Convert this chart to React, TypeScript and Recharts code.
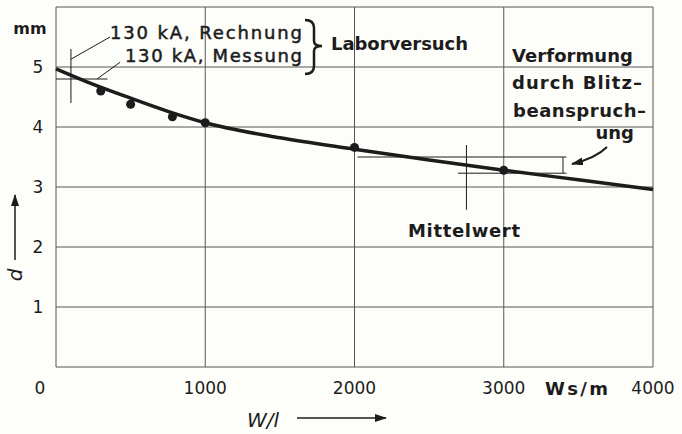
import React from "react";
import {
  CartesianGrid,
  ComposedChart,
  Line,
  ReferenceLine,
  Scatter,
  XAxis,
  YAxis,
} from "recharts";

// deformation d (mm) over specific energy W/l (Ws/m)
const curveW = [0, 250, 500, 750, 1000, 1500, 2000, 2500, 3000, 3500, 4000];
const curveD = [4.97, 4.71, 4.48, 4.26, 4.07, 3.82, 3.63, 3.45, 3.28, 3.12, 2.96];
const dotW = [300, 500, 780, 1000, 2000, 3000];
const dotD = [4.6, 4.38, 4.17, 4.07, 3.66, 3.28];
const xTicks = [0, 1000, 2000, 3000, 4000];
const yTicks = [0, 1, 2, 3, 4, 5, 6];
const yLabels = ["", "1", "2", "3", "4", "5", ""];

const curve = curveW.map((w, i) => ({ w, d: curveD[i] }));
const dots = dotW.map((w, i) => ({ w, d: dotD[i] }));

const ink = "#1c1c1c";
const font = "'DejaVu Sans', sans-serif";

function XTick(props: any) {
  const { x, y, payload } = props;
  const shift = payload.value === 0 ? -16 : 0;
  return (
    <text x={x + shift} y={y + 13} textAnchor="middle" dominantBaseline="central"
      fontFamily={font} fontSize={17} fill={ink}>
      {payload.value}
    </text>
  );
}

function YTick(props: any) {
  const { x, y, payload } = props;
  const label = yLabels[yTicks.indexOf(payload.value)];
  if (!label) return null;
  return (
    <text x={x - 10} y={y} textAnchor="middle" dominantBaseline="central"
      fontFamily={font} fontSize={17} fill={ink}>
      {label}
    </text>
  );
}

function Overlay() {
  const t = { fontFamily: font, fill: ink, dominantBaseline: "central" as const, lengthAdjust: "spacing" as const };
  const med = { stroke: ink, strokeWidth: 0.5 };
  return (
    <svg width={682} height={434} style={{ position: "absolute", left: 0, top: 0, pointerEvents: "none" }}>
      <defs>
        <marker id="ah" markerWidth="12" markerHeight="8" refX="11" refY="4" orient="auto" markerUnits="userSpaceOnUse">
          <path d="M0,0 L12,4 L0,8 Z" fill={ink} />
        </marker>
      </defs>
      <text x={30} y={28} fontSize={16} fontWeight="bold" textAnchor="middle" {...t}>mm</text>
      <text x={110} y={32} fontSize={18} textLength={192} {...t} {...med}>130 kA, Rechnung</text>
      <text x={125} y={55} fontSize={18} textLength={177} {...t} {...med}>130 kA, Messung</text>
      <path d="M305,20 Q314,20 314,28 L314,41 Q314,46 322,46 Q314,46 314,51 L314,66 Q314,74 305,74"
        fill="none" stroke={ink} strokeWidth={2.5} />
      <text x={331} y={43} fontSize={18} fontWeight="bold" textLength={137} {...t}>Laborversuch</text>
      <text x={512} y={55} fontSize={18} fontWeight="bold" textLength={121} {...t}>Verformung</text>
      <text x={512} y={82} fontSize={18} fontWeight="bold" textLength={130} {...t}>durch Blitz–</text>
      <text x={513} y={110} fontSize={18} fontWeight="bold" textLength={133} {...t}>beanspruch–</text>
      <text x={634} y={132} fontSize={18} fontWeight="bold" textAnchor="end" {...t}>ung</text>
      <path d="M607,147 Q596,158 572,164" fill="none" stroke={ink} strokeWidth={2} markerEnd="url(#ah)" />
      <text x={408} y={230} fontSize={18} fontWeight="bold" textLength={112} {...t}>Mittelwert</text>
      <text x={545} y={388} fontSize={18} fontWeight="bold" textLength={63} {...t}>Ws/m</text>
      <text x={247} y={420} fontSize={20} fontStyle="italic" {...t}>W/l</text>
      <line x1={297} y1={418} x2={386} y2={418} stroke={ink} strokeWidth={1.5} markerEnd="url(#ah)" />
      <text x={15} y={275} fontSize={20} fontStyle="italic" textAnchor="middle" {...t}
        transform="rotate(-90 15 275)">d</text>
      <line x1={15} y1={260} x2={15} y2={195} stroke={ink} strokeWidth={1.5} markerEnd="url(#ah)" />
    </svg>
  );
}

export default function App() {
  return (
    <div style={{ position: "absolute", left: 0, top: 0, width: 682, height: 434, background: "#fdfdfa" }}>
      <ComposedChart width={682} height={434} margin={{ top: 7, right: 29, left: 0, bottom: 0 }}>
        <CartesianGrid stroke="#555" strokeWidth={1} />
        <XAxis type="number" dataKey="w" domain={[0, 4000]} ticks={xTicks} height={67}
          axisLine={false} tickLine={false} tick={<XTick />} interval={0} />
        <YAxis type="number" dataKey="d" domain={[0, 6]} ticks={yTicks} width={56}
          axisLine={false} tickLine={false} tick={<YTick />} interval={0} />
        <ReferenceLine segment={[{ x: 100, y: 5.3 }, { x: 100, y: 4.4 }]} stroke={ink} strokeWidth={1} />
        <ReferenceLine segment={[{ x: 0, y: 4.8 }, { x: 345, y: 4.8 }]} stroke={ink} strokeWidth={1} />
        <ReferenceLine segment={[{ x: 100, y: 5.13 }, { x: 362, y: 5.5 }]} stroke={ink} strokeWidth={1} />
        <ReferenceLine segment={[{ x: 275, y: 4.8 }, { x: 430, y: 5.08 }]} stroke={ink} strokeWidth={1} />
        <ReferenceLine segment={[{ x: 2750, y: 3.7 }, { x: 2750, y: 2.62 }]} stroke={ink} strokeWidth={1} />
        <ReferenceLine segment={[{ x: 2020, y: 3.5 }, { x: 3420, y: 3.5 }]} stroke={ink} strokeWidth={1} />
        <ReferenceLine segment={[{ x: 2693, y: 3.23 }, { x: 3420, y: 3.23 }]} stroke={ink} strokeWidth={1} />
        <ReferenceLine segment={[{ x: 3397, y: 3.5 }, { x: 3397, y: 3.23 }]} stroke={ink} strokeWidth={1} />
        <Line data={curve} dataKey="d" type="monotone" stroke={ink} strokeWidth={3.5}
          dot={false} activeDot={false} isAnimationActive={false} />
        <Scatter data={dots} dataKey="d" fill={ink} isAnimationActive={false} />
      </ComposedChart>
      <Overlay />
    </div>
  );
}
